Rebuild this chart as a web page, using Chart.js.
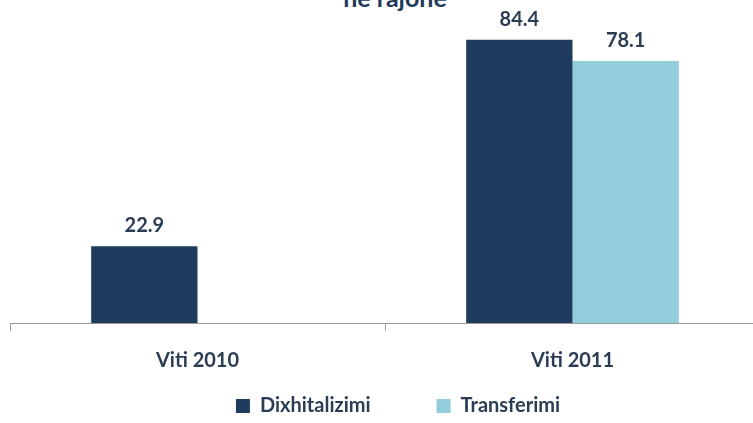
<!DOCTYPE html>
<html>
<head>
<meta charset="utf-8">
<script src="https://cdn.jsdelivr.net/npm/chart.js@4"></script>
<style>
  html, body { margin: 0; padding: 0; background: #fff; }
  #wrap { position: relative; width: 753px; height: 423px; overflow: hidden; }
  #title { position: absolute; top: -18px; left: 0; width: 790px; text-align: center;
           font: bold 25px/30px Lato, sans-serif; color: #1f3a5a; }
  #chart { position: absolute; top: 0; left: 0; }
</style>
</head>
<body>
<div id="wrap">
  <div id="title">në rajone</div>
  <canvas id="chart" width="765" height="423"></canvas>
</div>
<script>
const categories = ['Viti 2010', 'Viti 2011'];
const dixhitalizimi = [22.9, 84.4];
const transferimi = [null, 78.1];

const textColor = '#2b3d54';
const legendGap = 66;

// value labels above bars
const valueLabels = {
    id: 'valueLabels',
    afterDatasetsDraw(chart) {
        const ctx = chart.ctx;
        ctx.save();
        ctx.font = 'bold 20px Lato, sans-serif';
        ctx.fillStyle = textColor;
        ctx.textAlign = 'center';
        ctx.textBaseline = 'alphabetic';
        chart.data.datasets.forEach((ds, i) => {
            chart.getDatasetMeta(i).data.forEach((bar, j) => {
                if (ds.data[j] == null) return;
                ctx.fillText(ds.data[j].toFixed(1), bar.x, bar.y - 14);
            });
        });
        ctx.restore();
    }
};

// legend uses a wide gap between items, so pull its box back up and to the right
const legendPlace = {
    id: 'legendPlace',
    afterLayout(chart) {
        const lg = chart.legend;
        lg.top = 396 - legendGap;
        lg.left += 13;
        lg.right += 13;
    }
};

new Chart(document.getElementById('chart'), {
    type: 'bar',
    data: {
        labels: categories,
        datasets: [
            { label: 'Dixhitalizimi', data: dixhitalizimi, backgroundColor: '#1f3c5e' },
            { label: 'Transferimi', data: transferimi, backgroundColor: '#92cddc' }
        ]
    },
    options: {
        responsive: false,
        animation: false,
        layout: { padding: { top: 21, left: 10, right: 5, bottom: -64 } },
        categoryPercentage: 0.567,
        barPercentage: 1,
        plugins: {
            legend: {
                position: 'bottom',
                labels: {
                    boxWidth: 14, boxHeight: 14, padding: legendGap,
                    color: textColor,
                    font: { family: 'Lato', size: 20, weight: 'bold' }
                }
            },
            tooltip: { enabled: false }
        },
        scales: {
            x: {
                grid: { display: true, drawOnChartArea: false, offset: true, color: '#999', tickLength: 8 },
                border: { color: '#999' },
                ticks: { color: textColor, padding: 18, font: { family: 'Lato', size: 20, weight: 'bold' } }
            },
            y: {
                display: false,
                min: 0,
                max: 90
            }
        }
    },
    plugins: [valueLabels, legendPlace]
});
</script>
</body>
</html>
